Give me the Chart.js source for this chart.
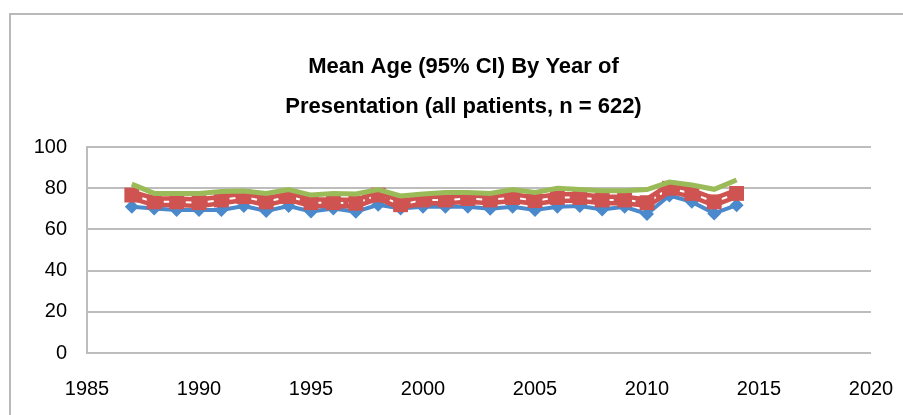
<!DOCTYPE html>
<html>
<head>
<meta charset="utf-8">
<script src="https://cdn.jsdelivr.net/npm/chart.js@4/dist/chart.umd.min.js"></script>
<style>
  html, body { margin: 0; padding: 0; background: #fff; }
  #moldura { position: absolute; left: 9px; top: 13px; width: 900px; height: 410px;
             border-left: 2px solid #b9b9b9; border-top: 2px solid #b9b9b9; }
  #caixa { position: absolute; left: 0; top: 0; width: 903px; height: 415px; }
</style>
</head>
<body>
<div id="moldura"></div>
<div id="caixa"><canvas id="Grafico" width="903" height="415"></canvas></div>
<script>
// year of presentation
const anos = [1987, 1988, 1989, 1990, 1991, 1992, 1993, 1994, 1995, 1996, 1997, 1998, 1999, 2000,
              2001, 2002, 2003, 2004, 2005, 2006, 2007, 2008, 2009, 2010, 2011, 2012, 2013, 2014]

// lower 95% CI
const idadeInferior = [71, 70.2, 69.4, 69.4, 69.4, 71.4, 69, 71.4, 68.7, 70.2, 68.6, 72, 70.2, 71,
                       71, 71, 70, 71, 69.5, 71, 71.4, 69.7, 71, 67.5, 76.5, 73.4, 67.8, 71.8]

// mean age
const idadeMedia = [76.7, 73.4, 73.4, 73, 74.3, 75.9, 73.4, 76, 73, 73, 72.7, 76.7, 72, 74.3,
                    74.3, 75, 74.3, 75.5, 74, 75.5, 75.5, 74.3, 74.3, 73, 80, 77.5, 73.4, 77.5]

// upper 95% CI
const idadeSuperior = [82, 77.5, 77.5, 77.5, 78.4, 78.7, 77.5, 79.4, 76.7, 77.5, 77.2, 79.4, 76.3, 77.2,
                       78, 78, 77.5, 79.4, 78, 80, 79.4, 78.8, 78.8, 79.4, 83, 81.6, 79.5, 84]

const ticksAno = [1985, 1990, 1995, 2000, 2005, 2010, 2015, 2020]
const ticksIdade = [0, 20, 40, 60, 80, 100]

const pontos = (valores) => anos.map((a, i) => ({ x: a, y: valores[i] }))

const azul = '#4a89cc'
const vermelho = '#cf5351'
const verde = '#9bbb59'

const fonteEixo = { family: "'Liberation Sans', Arial, sans-serif", size: 20 }

new Chart(document.getElementById('Grafico'), {
    type: 'line',
    data: {
        datasets: [
            {
                label: 'Upper',
                data: pontos(idadeSuperior),
                borderColor: verde,
                borderWidth: 5,
                pointRadius: 0,
                order: 0
            },
            {
                label: 'Mean',
                data: pontos(idadeMedia),
                borderColor: '#ffffff',
                borderWidth: 2,
                borderDash: [6, 5],
                pointStyle: 'rect',
                pointRadius: 10.5,
                pointBackgroundColor: vermelho,
                pointBorderColor: vermelho,
                pointBorderWidth: 0,
                order: 1
            },
            {
                label: 'Mean band',
                data: pontos(idadeMedia),
                borderColor: vermelho,
                borderWidth: 11,
                pointRadius: 0,
                order: 2
            },
            {
                label: 'Lower',
                data: pontos(idadeInferior),
                borderColor: azul,
                borderWidth: 4,
                pointStyle: 'rectRot',
                pointRadius: 7,
                pointBackgroundColor: azul,
                pointBorderColor: azul,
                pointBorderWidth: 0,
                order: 3
            }
        ]
    },
    options: {
        responsive: false,
        animation: false,
        events: [],
        layout: { autoPadding: false, padding: { left: 34, right: 10, top: 0, bottom: 0 } },
        plugins: {
            legend: { display: false },
            tooltip: { enabled: false },
            title: {
                display: true,
                text: ['Mean Age (95% CI) By Year of', 'Presentation (all patients, n = 622)'],
                color: '#000',
                font: { family: "'Liberation Sans Narrow', 'Arial Narrow', 'Liberation Sans', Arial, sans-serif",
                        size: 22, weight: 'bold', lineHeight: 1.82 },
                padding: { top: 47, bottom: 20 }
            }
        },
        scales: {
            x: {
                type: 'linear',
                min: 1985,
                max: 2020,
                afterBuildTicks: (eixo) => { eixo.ticks = ticksAno.map(v => ({ value: v })) },
                afterFit: (eixo) => { eixo.height = 62; eixo.paddingRight = 32 },
                grid: { display: false, drawTicks: false },
                border: { display: false },
                ticks: { color: '#000', font: fonteEixo, padding: 24, maxRotation: 0,
                         callback: (v) => String(v) }
            },
            y: {
                min: 0,
                max: 100,
                afterBuildTicks: (eixo) => { eixo.ticks = ticksIdade.map(v => ({ value: v })) },
                afterFit: (eixo) => { eixo.width = 53 },
                grid: { color: '#bdbdbd', lineWidth: 2, drawTicks: false },
                border: { display: true, color: '#bdbdbd', width: 2 },
                ticks: { color: '#000', font: fonteEixo, padding: 20 }
            }
        }
    }
})
</script>
</body>
</html>
